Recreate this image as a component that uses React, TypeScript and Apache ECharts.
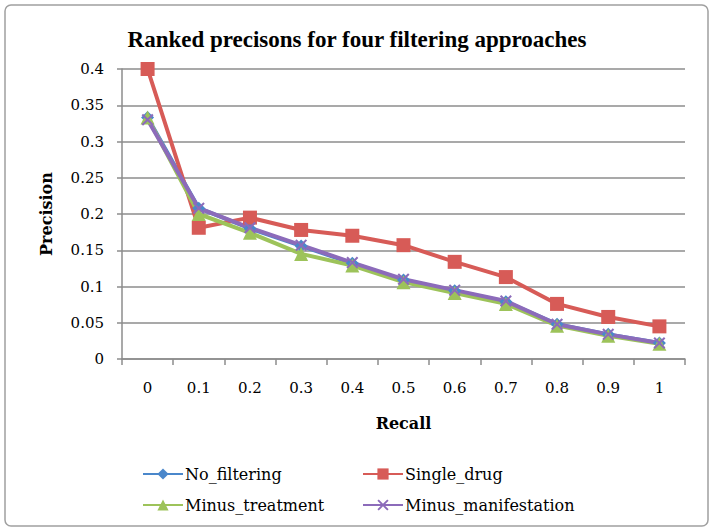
import React, { useEffect, useRef } from "react";
import * as echarts from "echarts";

const recall = ["0", "0.1", "0.2", "0.3", "0.4", "0.5", "0.6", "0.7", "0.8", "0.9", "1"];
const noFiltering = [0.333, 0.208, 0.18, 0.156, 0.132, 0.109, 0.094, 0.079, 0.048, 0.034, 0.022];
const singleDrug = [0.4, 0.181, 0.195, 0.178, 0.17, 0.157, 0.134, 0.113, 0.076, 0.058, 0.045];
const minusTreatment = [0.333, 0.2, 0.174, 0.145, 0.129, 0.106, 0.091, 0.076, 0.046, 0.032, 0.021];
const minusManifestation = [0.33, 0.208, 0.181, 0.157, 0.133, 0.11, 0.095, 0.08, 0.048, 0.034, 0.022];
const yTicks = [0, 0.05, 0.1, 0.15, 0.2, 0.25, 0.3, 0.35, 0.4];

const TITLE_FONT = "'Liberation Serif', 'Times New Roman', serif";
const FONT = "'DejaVu Serif', 'Liberation Serif', serif";
const CROSS = "path://M0,1.2L1.2,0L5,3.8L8.8,0L10,1.2L6.2,5L10,8.8L8.8,10L5,6.2L1.2,10L0,8.8L3.8,5Z";

export default function App() {
  const ref = useRef<HTMLDivElement>(null);
  useEffect(() => {
    const chart = echarts.init(ref.current!, undefined, { renderer: "svg" });
    const mkSeries = (name: string, data: number[], color: string, symbol: string, size: number) => ({
      name,
      type: "line",
      data,
      symbol,
      symbolSize: size,
      lineStyle: { width: 4, color },
      itemStyle: { color },
    });
    const legendItem = (name: string, left: number, top: number) => ({
      data: [name],
      left,
      top,
      itemWidth: 40,
      itemHeight: 14,
      itemGap: 0,
      padding: 0,
      textStyle: { fontFamily: FONT, fontSize: 16, color: "#000", padding: [0, 0, 0, -3] },
    });
    chart.setOption({
      animation: false,
      backgroundColor: "#fff",
      title: {
        text: "Ranked precisons for four filtering approaches",
        left: "center",
        top: 23,
        textStyle: { fontFamily: TITLE_FONT, fontSize: 23, fontWeight: "bold", color: "#000" },
      },
      graphic: [
        {
          type: "rect",
          shape: { x: 5, y: 5, width: 703, height: 521, r: 6 },
          style: { fill: "none", stroke: "#a0a0a0", lineWidth: 1.5 },
          silent: true,
        },
      ],
      legend: [
        legendItem("No_filtering", 142, 466),
        legendItem("Single_drug", 362, 466),
        legendItem("Minus_treatment", 142, 497),
        legendItem("Minus_manifestation", 362, 497),
      ],
      grid: { left: 122, right: 29, top: 69, bottom: 173 },
      xAxis: {
        type: "category",
        data: recall,
        boundaryGap: true,
        name: "Recall",
        nameLocation: "middle",
        nameGap: 56,
        nameTextStyle: { fontFamily: FONT, fontSize: 16, fontWeight: "bold", color: "#000" },
        axisLine: { lineStyle: { color: "#8c8c8c", width: 1.5 } },
        axisTick: { show: true, length: 6, lineStyle: { color: "#8c8c8c", width: 1.5 } },
        axisLabel: { fontFamily: FONT, fontSize: 15, color: "#000", margin: 21 },
      },
      yAxis: {
        type: "value",
        min: 0,
        max: 0.4,
        interval: 0.05,
        name: "Precision",
        nameLocation: "middle",
        nameGap: 68,
        nameTextStyle: { fontFamily: FONT, fontSize: 16, fontWeight: "bold", color: "#000" },
        axisLine: { show: true, lineStyle: { color: "#8c8c8c", width: 1.5 } },
        axisTick: { show: true, length: 5, lineStyle: { color: "#8c8c8c", width: 1.5 } },
        splitLine: { lineStyle: { color: "#8c8c8c", width: 1.5 } },
        axisLabel: {
          fontFamily: FONT,
          fontSize: 15,
          color: "#000",
          margin: 18,
          formatter: (v: number) => {
            const t = yTicks.find((x) => Math.abs(x - v) < 1e-9);
            return String(t !== undefined ? t : v);
          },
        },
      },
      series: [
        mkSeries("No_filtering", noFiltering, "#4A87CB", "diamond", 13),
        mkSeries("Single_drug", singleDrug, "#D75B57", "rect", 14),
        mkSeries("Minus_treatment", minusTreatment, "#9DC35A", "triangle", 14),
        mkSeries("Minus_manifestation", minusManifestation, "#8C6BBA", CROSS, 12),
      ],
    });
    return () => chart.dispose();
  }, []);
  return (
    <div
      ref={ref}
      style={{ position: "fixed", left: 0, top: 0, width: 714, height: 532, background: "#fff" }}
    />
  );
}
